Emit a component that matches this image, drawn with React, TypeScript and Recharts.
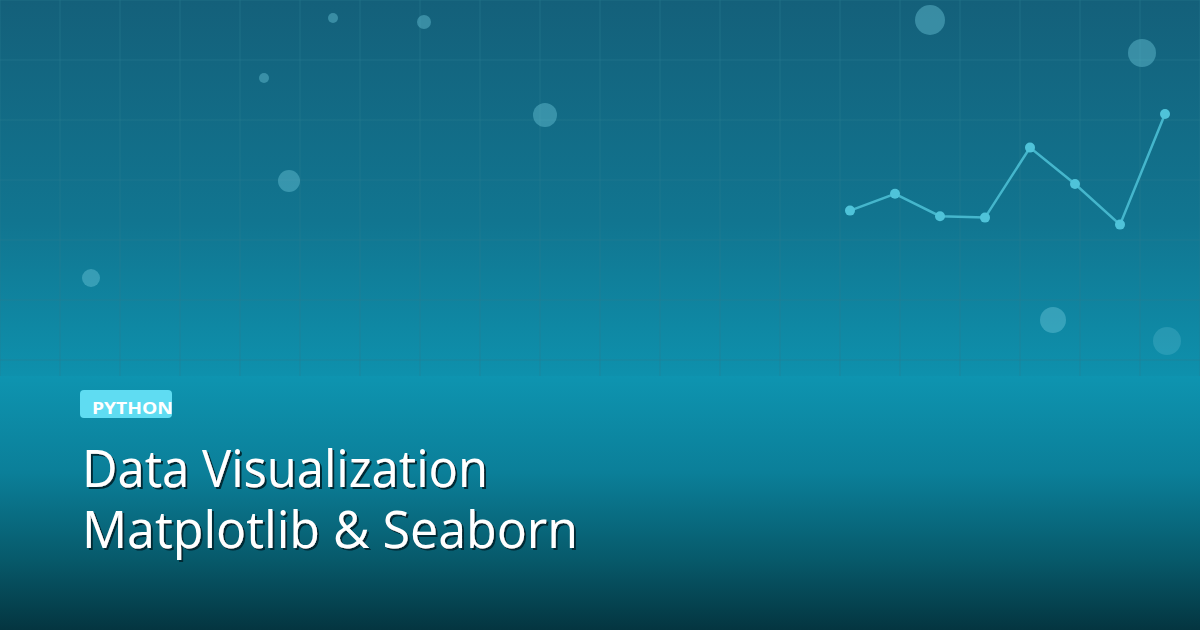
import {
  ComposedChart,
  LineChart,
  Line,
  Scatter,
  XAxis,
  YAxis,
  CartesianGrid,
} from "recharts";

// background grid, one line every 60px
const gridX = [0, 60, 120, 180, 240, 300, 360, 420, 480, 540, 600, 660, 720, 780, 840, 900, 960, 1020, 1080, 1140, 1200];
const gridY = [0, 60, 120, 180, 240, 300, 360];

// decorative bubbles (x, y on the canvas, r = radius)
const bubbles = [
  { x: 333, y: 18, r: 5 },
  { x: 424, y: 22, r: 7 },
  { x: 264, y: 78, r: 5 },
  { x: 545, y: 115, r: 12 },
  { x: 289, y: 181, r: 11 },
  { x: 91, y: 278, r: 9 },
  { x: 930, y: 20, r: 15 },
  { x: 1142, y: 53, r: 14 },
  { x: 1053, y: 320, r: 13 },
];
const fadedBubbles = [{ x: 1167, y: 341, r: 14 }];

// the little trend line, top right
const trendSteps = ["1", "2", "3", "4", "5", "6", "7", "8"];
const trendValues = [21, 33, 17, 16, 66, 40, 11, 90];

const badgeText = "PYTHON";
const titleLines = ["Data Visualization", "Matplotlib & Seaborn"];
const titleWidths = [406, 496];

const trendData = trendSteps.map((step, i) => ({ step, value: trendValues[i] }));

const bubbleShape = (fill: string) => (props: any) => (
  <circle cx={props.cx} cy={props.cy} r={props.payload.r} fill={fill} />
);

export default function App() {
  return (
    <div
      style={{
        position: "fixed",
        left: 0,
        top: 0,
        width: 1200,
        height: 630,
        overflow: "hidden",
        background: "linear-gradient(180deg, #14607a 0%, #117590 35%, #0e91ad 60%)",
      }}
    >
      <div style={{ position: "absolute", left: 0, top: 0 }}>
        <ComposedChart width={1200} height={630} margin={{ top: 0, right: 0, bottom: 0, left: 0 }}>
          <XAxis type="number" dataKey="x" domain={[0, 1200]} ticks={gridX} hide />
          <YAxis type="number" dataKey="y" domain={[0, 630]} ticks={gridY} reversed hide />
          <Scatter data={bubbles} shape={bubbleShape("rgba(110,200,220,0.42)")} isAnimationActive={false} />
          <Scatter data={fadedBubbles} shape={bubbleShape("rgba(110,200,220,0.25)")} isAnimationActive={false} />
          <CartesianGrid stroke="#2a7b92" strokeOpacity={0.5} strokeWidth={1} />
        </ComposedChart>
      </div>

      <div style={{ position: "absolute", left: 840, top: 90 }}>
        <LineChart width={335} height={160} data={trendData} margin={{ top: 10, right: 10, bottom: 10, left: 10 }}>
          <XAxis dataKey="step" hide padding={{ left: 0, right: 0 }} />
          <YAxis domain={[0, 100]} hide />
          <Line
            type="linear"
            dataKey="value"
            stroke="#45b6cc"
            strokeWidth={2.5}
            dot={{ r: 5, fill: "#4fc3d9", stroke: "none" }}
            isAnimationActive={false}
          />
        </LineChart>
      </div>

      {/* lower fade that hides the grid */}
      <div
        style={{
          position: "absolute",
          left: 0,
          top: 376,
          width: 1200,
          height: 254,
          background: "linear-gradient(180deg, #0e94b0 0%, #0b7f99 38%, #075a6b 72%, #043540 100%)",
        }}
      />

      <svg width={1200} height={630} style={{ position: "absolute", left: 0, top: 0 }}>
        <defs>
          <filter id="titleShadow" x="-5%" y="-20%" width="110%" height="140%">
            <feDropShadow dx={2} dy={2} stdDeviation={0.3} floodColor="#022b34" floodOpacity={1} />
          </filter>
        </defs>
        <rect x={80} y={390} width={92} height={28} rx={4} fill="#5fdcf2" />
        <text x={92} y={414} fontFamily="Open Sans" fontWeight={700} fontSize={16} fill="#ffffff" textLength={81} lengthAdjust="spacingAndGlyphs">
          {badgeText}
        </text>
        {titleLines.map((line, i) => (
          <text
            key={line}
            x={82}
            y={487 + i * 61}
            fontFamily="Open Sans"
            fontSize={51}
            fill="#ffffff"
            textLength={titleWidths[i]}
            lengthAdjust="spacingAndGlyphs"
            filter="url(#titleShadow)"
          >
            {line}
          </text>
        ))}
      </svg>
    </div>
  );
}
